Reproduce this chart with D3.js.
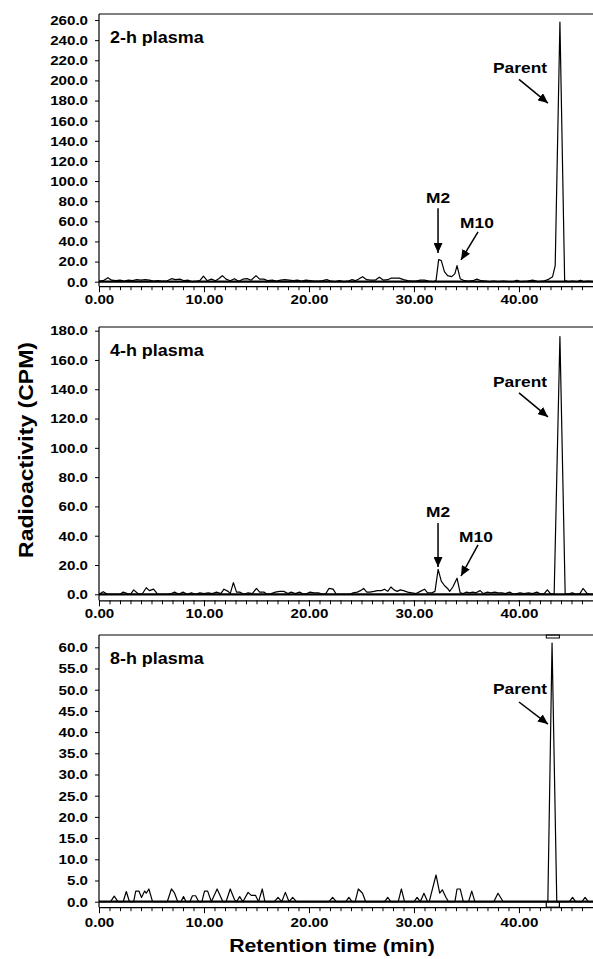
<!DOCTYPE html>
<html>
<head>
<meta charset="utf-8">
<script src="https://cdnjs.cloudflare.com/ajax/libs/d3/7.8.5/d3.min.js"></script>
<style>
  body { margin: 0; background: #fff; }
  svg text { font-family: "Liberation Sans", Arial, sans-serif; font-weight: bold; fill: #000; }
</style>
</head>
<body>
<div id="chart"></div>
<script>
// retention time (min) and radioactivity (CPM)
const time2h = [0.0,0.4,0.85,1.2,1.6,2.0,2.4,2.8,3.2,3.6,4.0,4.4,4.8,5.2,5.6,6.0,6.4,6.9,7.3,7.7,8.1,8.5,8.9,9.3,9.6,9.95,10.3,10.7,11.1,11.4,11.75,12.1,12.5,12.9,13.3,13.7,14.1,14.5,14.95,15.3,15.7,16.1,16.5,16.9,17.3,17.7,18.1,18.5,18.9,19.3,19.7,20.1,20.5,20.9,21.3,21.7,22.1,22.5,22.9,23.3,23.7,24.1,24.4,24.7,25.1,25.5,25.9,26.3,26.7,27.1,27.5,27.8,28.2,28.6,29.0,29.4,29.8,30.2,30.6,31.0,31.4,31.8,32.1,32.35,32.6,32.9,33.2,33.6,33.9,34.1,34.4,34.8,35.2,35.6,36.0,36.4,36.8,37.2,37.6,38.0,38.5,39.0,39.4,39.8,40.2,40.8,41.3,41.8,42.3,42.75,43.2,43.45,43.9,44.35,44.7,45.1,45.5,45.85,46.2,46.6,47.05];
const cpm2h  = [0.5,1,4,1.5,1,1.5,0.5,1.5,1,2,1.5,2,1.5,0.5,1,0.5,0.5,3,2,2.5,1,1.5,0,0.5,1,5.5,1,2.5,1,3,6,2.5,1,3,0.5,2.5,3,1.5,6,2.5,2.5,1,1.5,0.5,1.5,2,1.5,1,1.5,0.5,1.5,1,0.5,0.5,1,2,0.5,0,1,0,0.5,2,1,2.5,5,2,1.5,1.5,4.5,1.5,2,3.5,3.5,3.5,2,1,0.5,0.5,1.5,1.5,0.5,0,1,22,21,10,6,5,8,16,3,1,0.5,1,2.5,1,0.5,0,0.5,0,0.5,0,0,1.5,0,0.5,1.5,0,0.5,2,5,16,258,1,0,0.5,0,1.5,0,0.5,0];

const time4h = [0.0,0.4,0.8,2.0,2.3,2.7,3.0,3.3,3.7,4.1,4.5,4.8,5.2,5.6,6.5,6.9,7.2,7.6,8.0,8.4,8.8,9.2,9.6,10.0,10.4,10.8,11.2,11.6,11.9,12.3,12.5,12.8,13.1,13.4,13.8,14.2,14.6,15.0,15.3,15.7,16.0,16.4,16.8,17.2,17.6,18.0,18.3,18.7,19.1,19.5,19.8,20.1,20.5,20.9,21.3,21.6,21.9,22.3,22.6,23.9,24.2,24.6,24.9,25.2,25.5,25.8,26.2,26.5,26.9,27.2,27.5,27.8,28.1,28.4,28.7,29.0,29.4,29.8,30.2,30.6,31.0,31.3,31.7,32.0,32.3,32.6,32.9,33.2,33.4,33.7,34.1,34.4,34.7,35.0,35.3,35.6,35.9,36.3,36.6,37.0,37.3,37.7,38.0,38.4,38.7,39.1,39.5,39.8,40.1,40.5,40.9,41.3,41.7,42.1,42.4,42.7,43.0,43.35,43.9,44.4,44.8,45.1,45.4,45.8,46.1,46.5,46.8,47.05];
const cpm4h  = [0,1.8,0,0,1.5,0.5,0,3,0.5,0,4.5,2.5,3.5,0,0,0.5,1.5,0,1.5,0,1,0,1,0.5,1,0.5,1.5,0.5,3.5,2,0.5,8,1.5,1.5,0,1,0.5,4,1.5,1.5,0,0.5,1.5,2,2,0.5,1.5,0.5,1.5,0,0.5,1.5,1,1,0,0.5,4,3.5,0,0,1,1.5,2.5,4,1.5,1.5,2,2.5,2.5,3.5,2,5,3,2,3,2.5,1.5,1,0.5,2,3.5,1,1,2,17,9,6,4,2,5,11,1,0.5,1.5,1,1.5,1,2.5,0.5,1.5,1,1.5,1,1,0.5,1.5,0,0.5,1,0.5,1,0.5,1.5,0,0.5,3,0.5,0,176,0,0.5,1,0,0.5,4,0.5,0,0];

const time8h = [0.0,1.1,1.45,1.8,2.3,2.6,2.9,3.3,3.5,3.8,4.05,4.35,4.5,4.75,5.1,6.5,6.9,7.2,7.5,7.8,8.05,8.3,8.65,8.9,9.2,9.5,9.8,10.05,10.35,10.7,11.25,11.8,12.1,12.5,12.9,13.1,13.4,13.7,14.2,14.5,14.9,15.2,15.55,15.8,16.7,17.05,17.4,17.75,18.1,18.45,18.8,21.9,22.25,22.6,23.5,23.8,24.1,24.4,24.7,25.1,25.4,27.2,27.5,27.8,28.5,28.8,29.1,30.0,30.3,30.6,30.95,31.3,31.45,32.1,32.45,32.7,33.05,33.3,33.9,34.1,34.4,34.7,35.2,35.5,35.8,37.6,38.0,38.5,42.75,43.15,43.6,44.8,45.1,45.4,46.0,46.3,46.6,47.05];
const cpm8h  = [0,0,1.3,0,0,2.4,0,0,2.5,2.5,1,2.5,2,3,0,0,3,2,0,0,1.2,0,0,1.4,1.4,0,0,2.5,2.5,0,3,0,0,3,0.5,0,1.2,0,2.2,1.5,1.5,0,3,0,0,1,0,2.2,0,1,0,0,1,0,0,1,0,0,3,2,0,0,1,0,0,3,0,0,1,0,2,0,0,6.3,2,2.8,1,0,0,3,3,0,0,2.5,0,0,2,0,0,61,0,0,1,0,0,1,0,0];

// axis ticks
const xMajorTicks = [0, 10, 20, 30, 40];
const xMinorTicks = d3.range(0, 47, 1);
const yTicks2h = d3.range(0, 261, 20);
const yTicks4h = d3.range(0, 181, 20);
const yTicks8h = d3.range(0, 61, 5);

const panelTitles = ["2-h plasma", "4-h plasma", "8-h plasma"];

// peak labels: label at (lt, lv), arrow from (at, av) to tip (tt, tv)
const notes2h = [
  {text: "Parent", lt: 40.1, lv: 207, at: 40.0, av: 201, tt: 42.76, tv: 177.5},
  {text: "M2",     lt: 32.29, lv: 78, at: 32.29, av: 73, tt: 32.29, tv: 28.5},
  {text: "M10",    lt: 36.0, lv: 53.4, at: 36.1, av: 49.4, tt: 34.48, tv: 21.6}
];
const notes4h = [
  {text: "Parent", lt: 40.1, lv: 141.6, at: 40.0, av: 137.5, tt: 42.76, tv: 121.1},
  {text: "M2",     lt: 32.29, lv: 52.8, at: 32.29, av: 48.7, tt: 32.29, tv: 18.6},
  {text: "M10",    lt: 35.9, lv: 35.7, at: 36.1, av: 33.7, tt: 34.48, tv: 12.5}
];
const notes8h = [
  {text: "Parent", lt: 40.1, lv: 49.0, at: 40.0, av: 47.1, tt: 42.76, tv: 41.9}
];
const bracket8h = [42.6, 43.85];

const W = 593, H = 959;
const left = 99, right = 593;

let svg = d3.select("#chart")
  .append("svg")
  .attr("width", W)
  .attr("height", H);

svg.append("defs").append("marker")
  .attr("id", "arrow")
  .attr("viewBox", "0 0 10 9")
  .attr("refX", 10)
  .attr("refY", 4.5)
  .attr("markerWidth", 10)
  .attr("markerHeight", 9)
  .attr("markerUnits", "userSpaceOnUse")
  .attr("orient", "auto")
  .append("path")
  .attr("d", "M0,0L10,4.5L0,9z")
  .attr("fill", "#000");

let x = d3.scaleLinear().domain([0, 47.05]).range([left, right]);

function drawPanel(cfg) {
  let y = d3.scaleLinear().domain([0, cfg.yMax]).range([cfg.y0, cfg.top]);
  let axisY = cfg.y0 + cfg.gap;
  let g = svg.append("g");

  // frame: top border + y axis line
  g.append("line").attr("x1", left).attr("x2", right).attr("y1", cfg.top).attr("y2", cfg.top)
    .attr("stroke", "#000").attr("stroke-width", 1.2);
  g.append("line").attr("x1", left).attr("x2", left).attr("y1", cfg.top).attr("y2", axisY)
    .attr("stroke", "#000").attr("stroke-width", 1.2);

  let ya = g.append("g")
    .attr("transform", "translate(" + left + ",0)")
    .call(d3.axisLeft(y).tickValues(cfg.yTicks).tickSize(4).tickPadding(7).tickFormat(d3.format(".1f")));
  ya.select(".domain").remove();
  ya.selectAll("text").attr("font-size", "13.5px");

  // x axis sits a few px under the zero line
  let xminor = g.append("g")
    .attr("transform", "translate(0," + axisY + ")")
    .call(d3.axisBottom(x).tickValues(xMinorTicks).tickSize(4).tickSizeOuter(0).tickFormat(""));
  xminor.select(".domain").attr("stroke-width", 1.2);
  let xa = g.append("g")
    .attr("transform", "translate(0," + axisY + ")")
    .call(d3.axisBottom(x).tickValues(xMajorTicks).tickSize(6).tickSizeOuter(0).tickPadding(cfg.xPad).tickFormat(d3.format(".2f")));
  xa.select(".domain").remove();
  xa.selectAll("text").attr("font-size", "13.5px");

  // zero baseline
  g.append("line").attr("x1", left).attr("x2", right).attr("y1", y(0)).attr("y2", y(0))
    .attr("stroke", "#000").attr("stroke-width", 2.2);

  let pts = cfg.time.map(function(t, i) { return [t, cfg.cpm[i]]; });
  g.append("path")
    .datum(pts)
    .attr("fill", "none")
    .attr("stroke", "#000")
    .attr("stroke-width", 1.2)
    .attr("stroke-linejoin", "round")
    .attr("d", d3.line().x(function(d) { return x(d[0]); }).y(function(d) { return y(d[1]); }));

  if (cfg.bracket) {
    let bx0 = x(cfg.bracket[0]), bx1 = x(cfg.bracket[1]);
    g.append("rect").attr("x", bx0).attr("y", cfg.top).attr("width", bx1 - bx0).attr("height", 3)
      .attr("fill", "none").attr("stroke", "#000").attr("stroke-width", 1);
    g.append("rect").attr("x", bx0).attr("y", y(0)).attr("width", bx1 - bx0).attr("height", axisY - y(0))
      .attr("fill", "none").attr("stroke", "#000").attr("stroke-width", 1.2);
  }

  g.append("text")
    .text(cfg.title)
    .attr("x", left + 11)
    .attr("y", cfg.top + 29)
    .attr("font-size", "16px");

  cfg.notes.forEach(function(n) {
    g.append("text")
      .text(n.text)
      .attr("x", x(n.lt))
      .attr("y", y(n.lv))
      .attr("text-anchor", "middle")
      .attr("font-size", "15.5px");
    g.append("line")
      .attr("x1", x(n.at)).attr("y1", y(n.av))
      .attr("x2", x(n.tt)).attr("y2", y(n.tv))
      .attr("stroke", "#000")
      .attr("stroke-width", 1.5)
      .attr("marker-end", "url(#arrow)");
  });
}

drawPanel({top: 14, y0: 281.7, yMax: 266, gap: 4.5, xPad: 2, yTicks: yTicks2h,
  time: time2h, cpm: cpm2h, title: panelTitles[0], notes: notes2h});
drawPanel({top: 327, y0: 594.3, yMax: 182.5, gap: 6, xPad: 2, yTicks: yTicks4h,
  time: time4h, cpm: cpm4h, title: panelTitles[1], notes: notes4h});
drawPanel({top: 635, y0: 901.7, yMax: 62.9, gap: 5.5, xPad: 4, yTicks: yTicks8h,
  time: time8h, cpm: cpm8h, title: panelTitles[2], notes: notes8h, bracket: bracket8h});

// axis titles
svg.append("text")
  .text("Retention time (min)")
  .attr("x", 332)
  .attr("y", 952)
  .attr("text-anchor", "middle")
  .attr("font-size", "19px");
svg.append("text")
  .attr("class", "ytitle")
  .text("Radioactivity (CPM)")
  .attr("transform", "translate(33,450) rotate(-90)")
  .attr("text-anchor", "middle")
  .attr("font-size", "20px");

// the original lettering is a touch wider than Arial bold
svg.selectAll("text").each(function() {
  let k = d3.select(this).classed("ytitle") ? 1.15 : 1.12;
  let len = this.getComputedTextLength();
  d3.select(this).attr("textLength", len * k).attr("lengthAdjust", "spacingAndGlyphs");
});
</script>
</body>
</html>
